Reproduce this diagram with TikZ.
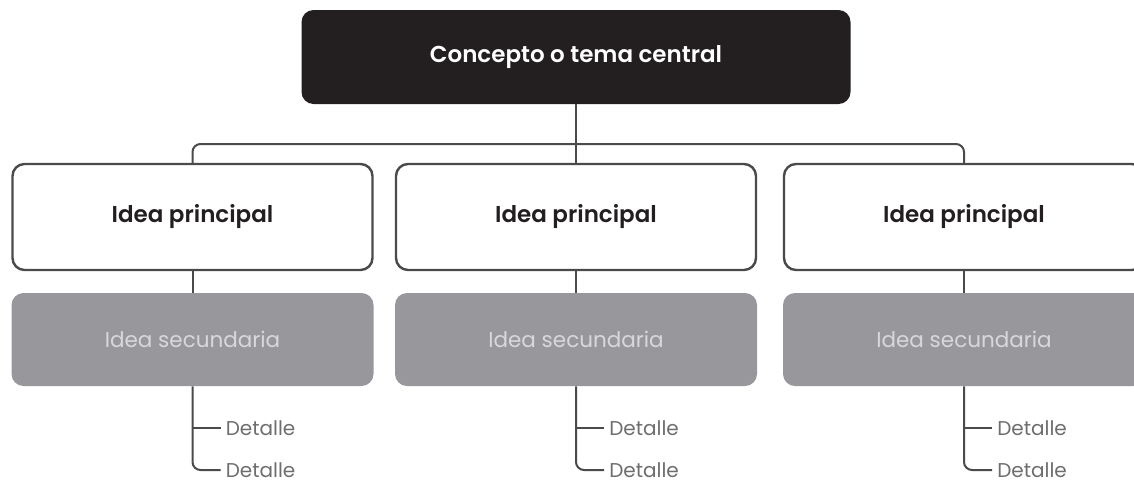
\documentclass[tikz,border=0pt]{standalone}
\usepackage{fontspec}
\setmainfont{Poppins}[BoldFont={Poppins SemiBold}]
\usetikzlibrary{positioning}

\definecolor{tinta}{HTML}{231F20}
\definecolor{trazo}{HTML}{4A4A4A}
\definecolor{gris}{HTML}{98989C}
\definecolor{grisclaro}{HTML}{D8D8DB}
\definecolor{griso}{HTML}{6E6E6E}

\begin{document}
\begin{tikzpicture}[x=1pt, y=-1pt, semithick]
    \tikzset{central/.style={rectangle, rounded corners=12pt, fill=tinta, text=white, minimum width=549pt, minimum height=94pt, font=\fontsize{23}{27}\selectfont\bfseries},
             principal/.style={rectangle, rounded corners=12pt, draw=trazo, line width=2.4pt, fill=white, text=tinta, minimum width=360pt, minimum height=106pt, font=\fontsize{23}{27}\selectfont\bfseries},
             secundaria/.style={rectangle, rounded corners=12pt, fill=gris, text=grisclaro, minimum width=362pt, minimum height=93pt, font=\fontsize{21.5}{25}\selectfont},
             detalle/.style={anchor=west, inner xsep=5pt, inner ysep=1pt, text=griso, font=\fontsize{20}{23}\selectfont},
             link/.style={draw=trazo, line width=2pt}};
    \useasboundingbox (0,0) rectangle (1134,483);
    \node[central] (tema) at (576, 57) {Concepto o tema central};
    \coordinate (barra) at (0, 144);
    \node[principal] (p1) at (192.5, 217) {Idea principal};
    \node[principal] (p2) at (576, 217) {Idea principal};
    \node[principal] (p3) at (964, 217) {Idea principal};
    \node[secundaria] (s1) at (192.5, 339.5) {Idea secundaria};
    \node[secundaria] (s2) at (576, 339.5) {Idea secundaria};
    \node[secundaria] (s3) at (964, 339.5) {Idea secundaria};
    \foreach \i/\x in {1/192.5, 2/576, 3/964}
    {
        \node[detalle] (d\i a) at (\x+28, 428) {Detalle};
        \node[detalle] (d\i b) at (\x+28, 470) {Detalle};
        \draw[link] (p\i) -- (s\i);
        \draw[link, rounded corners=8pt] (s\i.south) |- (d\i b.west);
        \draw[link] (s\i.south |- d\i a.west) -- (d\i a.west);
    }
    \draw[link] (tema.south) -- (tema.south |- p2.north);
    \draw[link, rounded corners=8pt] (p1.north) -- (p1.north |- barra) -- (p3.north |- barra) -- (p3.north);
\end{tikzpicture}
\end{document}
